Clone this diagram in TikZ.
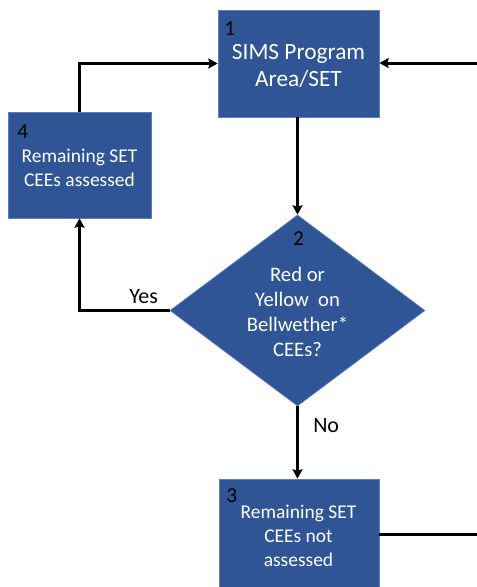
\documentclass[tikz,border=0pt]{standalone}
\usepackage{fontspec}
\setmainfont{Carlito}
\usetikzlibrary{positioning, arrows.meta, shapes.geometric}
\definecolor{boxblue}{RGB}{47,85,151}
\definecolor{boxedge}{RGB}{91,127,191}
\tikzset{
	x = .75pt,
	y = -.75pt,
	>={Stealth[length=7pt,width=7.5pt,inset=1pt]},
	connector/.style={
		line width=2.25pt
	},
	process/.style={
		draw=boxedge,
		fill=boxblue,
		line width=.5pt,
		rectangle,
		inner sep=0pt
	},
	decision/.style={
		draw=boxedge,
		fill=boxblue,
		line width=.5pt,
		diamond,
		inner sep=0pt,
		minimum width=191.25pt,
		minimum height=143.25pt
	},
	boxtext/.style={
		text=white,
		align=center,
		font=\fontsize{14.6}{18}\selectfont
	},
	stepno/.style={
		text=black,
		inner sep=0pt,
		font=\fontsize{16}{18}\selectfont
	},
	answer/.style={
		inner sep=0pt,
		anchor=base west,
		font=\fontsize{16.5}{19}\selectfont
	}
}

\begin{document}
\begin{tikzpicture}
\useasboundingbox (0,0) rectangle (477,587);
\begin{scope}
\clip (0,0) rectangle (477,587);

% ---
% Shapes
% ---
\node[process, minimum width=120.75pt, minimum height=80.25pt] (area) at (298.5,63.5) {};
\node[process, minimum width=107.25pt, minimum height=79.5pt] (assessed) at (79.5,165) {};
\node[decision] (bell) at (297.5,310.5) {};
\node[process, minimum width=120pt, minimum height=81.75pt] (notassessed) at (299,533.5) {};

\node[boxtext, font=\fontsize{17.5}{20.25}\selectfont] (area-text) at (298.5,66) {SIMS Program\\Area/SET};
\node[boxtext] (assessed-text) at (79.5,168) {Remaining SET\\CEEs assessed};
\node[boxtext, font=\fontsize{15.5}{18.75}\selectfont] (bell-text) at (297.5,312) {Red or\\Yellow~ on\\Bellwether*\\CEEs?};
\node[boxtext] (notassessed-text) at (298.5,536) {Remaining SET\\CEEs not\\assessed};

\node[stepno, anchor=base west] (n1) at (224,35) {1};
\node[stepno, anchor=base west] (n4) at (17,138) {4};
\node[stepno, anchor=base] (n2) at (298.5,245) {2};
\node[stepno, anchor=base west] (n3) at (226,502) {3};

% ---
% Connectors
% ---
\coordinate (in-right) at (480,63);
\coordinate (out-right) at (480,534);
\begin{scope}[connector]
\draw[->] (area.south -| bell.north) -- (bell.north);
\draw[->] (bell.south) -- (bell.south |- notassessed.north);
\draw[->] (bell.west) -| (assessed.south);
\draw[->] (assessed.north) |- (area.west);
\draw[->] (in-right) -- (in-right -| area.east);
\draw (out-right -| notassessed.east) -- (out-right);
\end{scope}

\node[answer] (yes) at (129,303) {Yes};
\node[answer] (no) at (313,432) {No};
\end{scope}
\end{tikzpicture}
\end{document}
